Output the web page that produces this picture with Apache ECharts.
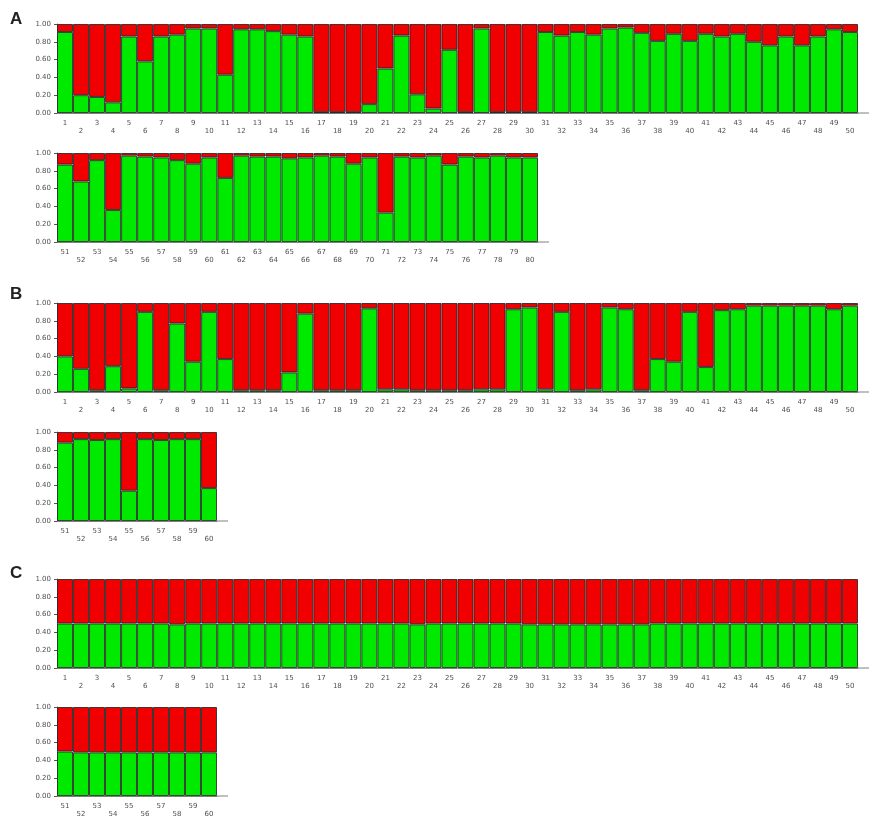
<!DOCTYPE html>
<html>
<head>
<meta charset="utf-8">
<script src="https://cdn.jsdelivr.net/npm/echarts@6/dist/echarts.min.js"></script>
<style>
  html, body { margin: 0; padding: 0; background: #fff; }
  #chart { width: 870px; height: 820px; }
</style>
</head>
<body>
<div id="chart"></div>
<script>
// individual ids per row
const range = (a, b) => Array.from({ length: b - a + 1 }, (_, i) => String(a + i));
const idsRow1 = range(1, 50);
const idsA2 = range(51, 80);
const idsB2 = range(51, 60);

// membership in cluster 1 (green)
const qA1 = [0.91, 0.20, 0.18, 0.12, 0.86, 0.58, 0.86, 0.88, 0.95, 0.95,
             0.43, 0.94, 0.94, 0.92, 0.88, 0.86, 0.01, 0.01, 0.01, 0.10,
             0.50, 0.87, 0.21, 0.05, 0.71, 0.01, 0.95, 0.01, 0.01, 0.01,
             0.91, 0.87, 0.91, 0.88, 0.95, 0.96, 0.90, 0.81, 0.89, 0.81,
             0.89, 0.86, 0.89, 0.80, 0.76, 0.86, 0.76, 0.86, 0.94, 0.91];
const qA2 = [0.87, 0.68, 0.92, 0.36, 0.97, 0.96, 0.95, 0.92, 0.88, 0.95,
             0.72, 0.97, 0.96, 0.96, 0.94, 0.95, 0.97, 0.96, 0.88, 0.95,
             0.33, 0.96, 0.95, 0.97, 0.87, 0.96, 0.95, 0.97, 0.95, 0.95];
const qB1 = [0.40, 0.26, 0.02, 0.29, 0.04, 0.90, 0.02, 0.77, 0.34, 0.90,
             0.37, 0.02, 0.02, 0.02, 0.22, 0.88, 0.02, 0.02, 0.02, 0.94,
             0.03, 0.03, 0.02, 0.02, 0.02, 0.02, 0.03, 0.03, 0.93, 0.95,
             0.03, 0.90, 0.02, 0.03, 0.95, 0.93, 0.02, 0.37, 0.34, 0.90,
             0.28, 0.92, 0.93, 0.97, 0.97, 0.97, 0.97, 0.97, 0.93, 0.97];
const qB2 = [0.88, 0.92, 0.91, 0.92, 0.34, 0.92, 0.91, 0.92, 0.92, 0.37];
const qC1 = [0.50, 0.50, 0.50, 0.50, 0.50, 0.50, 0.50, 0.49, 0.50, 0.50,
             0.50, 0.50, 0.50, 0.50, 0.50, 0.50, 0.50, 0.50, 0.50, 0.50,
             0.50, 0.50, 0.49, 0.50, 0.50, 0.50, 0.50, 0.50, 0.50, 0.49,
             0.49, 0.49, 0.49, 0.49, 0.49, 0.49, 0.49, 0.50, 0.50, 0.50,
             0.50, 0.50, 0.50, 0.50, 0.50, 0.50, 0.50, 0.50, 0.50, 0.50];
const qC2 = [0.50, 0.49, 0.49, 0.49, 0.49, 0.49, 0.49, 0.49, 0.49, 0.49];

// layout of the six strips
const panels = [
  { ids: idsRow1, q: qA1, top: 24,  width: 801 },
  { ids: idsA2,   q: qA2, top: 153, width: 481 },
  { ids: idsRow1, q: qB1, top: 303, width: 801 },
  { ids: idsB2,   q: qB2, top: 432, width: 160 },
  { ids: idsRow1, q: qC1, top: 579, width: 801 },
  { ids: idsB2,   q: qC2, top: 707, width: 160 }
];
const LEFT = 57, H = 89;
const GREEN = "#00ea00", RED = "#f00000";
const axisCol = "#808080", txtCol = "#505050";
const font = "DejaVu Sans";

const grid = [], xAxis = [], yAxis = [], series = [], graphic = [];
panels.forEach((p, i) => {
  grid.push({ left: LEFT, top: p.top, width: p.width, height: H });
  xAxis.push({
    type: "category", gridIndex: i, data: p.ids,
    axisLine: { lineStyle: { color: axisCol, width: 1 } },
    axisTick: { alignWithLabel: true, length: 3, lineStyle: { color: "#555" } },
    axisLabel: {
      interval: 0, margin: 6, fontSize: 7, lineHeight: 8, color: txtCol, fontFamily: font,
      formatter: (v, k) => (k % 2 ? "\n" + v : v)
    }
  });
  yAxis.push({
    type: "value", gridIndex: i, min: 0, max: 1, interval: 0.2,
    axisLine: { show: true, lineStyle: { color: axisCol } },
    axisTick: { show: true, length: 3, lineStyle: { color: "#555" } },
    splitLine: { show: false },
    axisLabel: { margin: 6, fontSize: 7, color: txtCol, fontFamily: font,
                 formatter: v => v.toFixed(2) }
  });
  const border = { borderColor: "rgba(30,30,30,0.8)", borderWidth: 1 };
  series.push({
    type: "bar", xAxisIndex: i, yAxisIndex: i, stack: "s" + i, data: p.q,
    barCategoryGap: 0, itemStyle: Object.assign({ color: GREEN }, border),
    silent: true, animation: false
  });
  series.push({
    type: "bar", xAxisIndex: i, yAxisIndex: i, stack: "s" + i,
    data: p.q.map(v => +(1 - v).toFixed(2)),
    barCategoryGap: 0, itemStyle: Object.assign({ color: RED }, border),
    silent: true, animation: false
  });
  // the axis line runs a little past the last bar
  graphic.push({
    type: "line", silent: true,
    shape: { x1: LEFT + p.width, y1: p.top + H, x2: LEFT + p.width + 11, y2: p.top + H },
    style: { stroke: axisCol, lineWidth: 1 }
  });
});

[["A", 10, 11], ["B", 10, 286], ["C", 10, 565]].forEach(([t, x, y]) => {
  graphic.push({
    type: "text", left: x, top: y, silent: true,
    style: { text: t, font: "bold 17px 'Liberation Sans', Arial", fill: "#222" }
  });
});

const chart = echarts.init(document.getElementById("chart"));
chart.setOption({
  backgroundColor: "#fff",
  animation: false,
  grid, xAxis, yAxis, series, graphic
});
</script>
</body>
</html>
